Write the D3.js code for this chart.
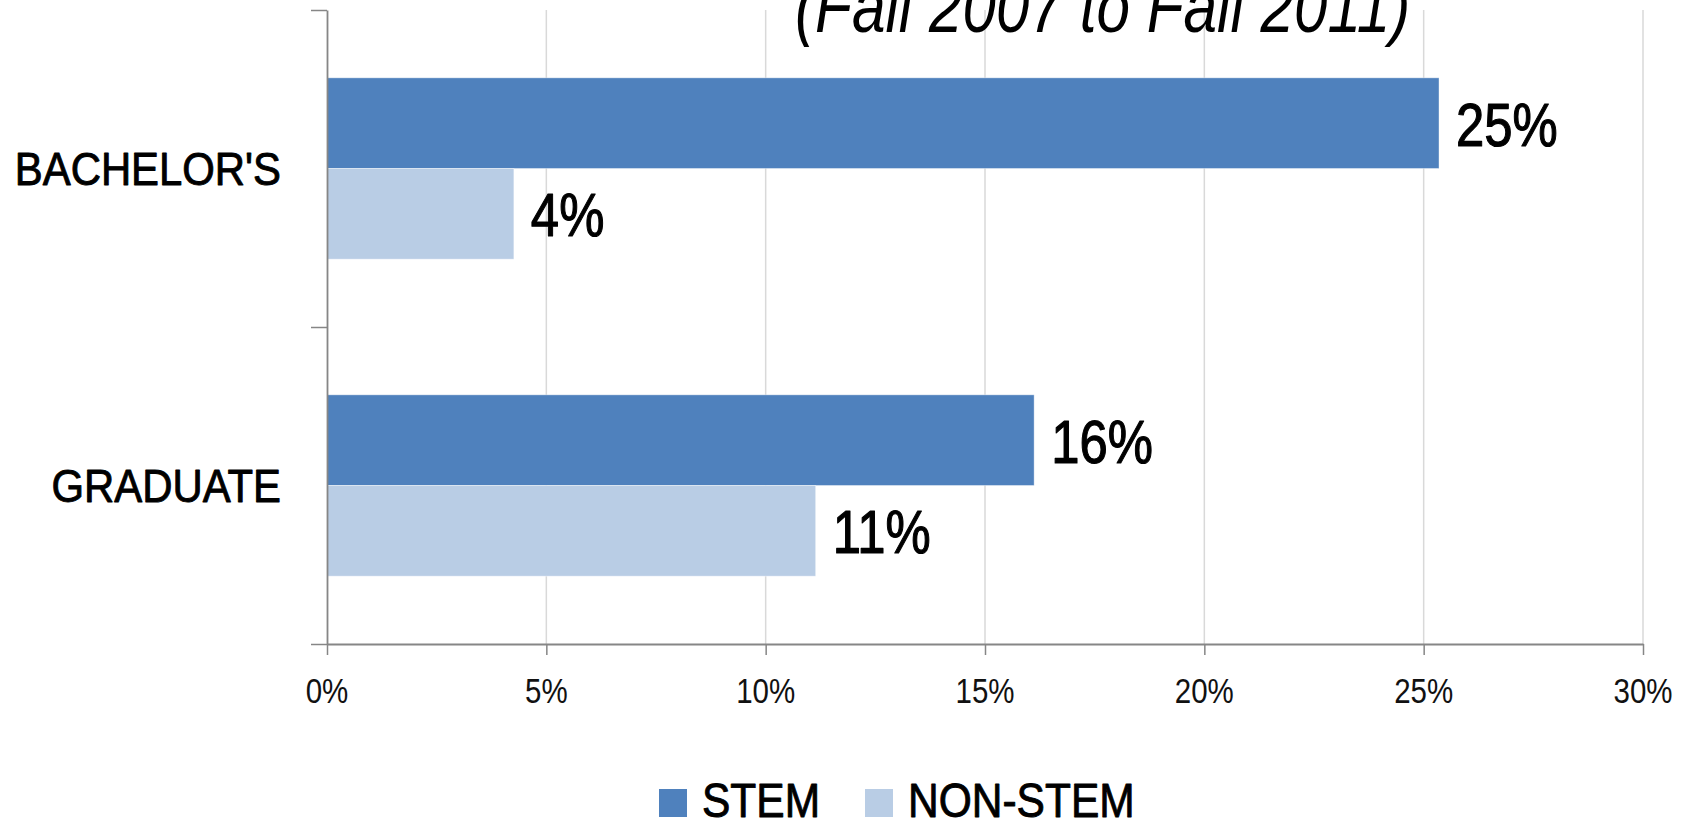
<!DOCTYPE html>
<html>
<head>
<meta charset="utf-8">
<script src="https://cdn.jsdelivr.net/npm/d3@7"></script>
<style>
  html, body { margin: 0; padding: 0; background: #ffffff; overflow: hidden; }
  svg { display: block; }
</style>
</head>
<body>
<svg id="chart" width="1687" height="824"></svg>
<script>
// ---- data ----
const categories = ["BACHELOR'S", "GRADUATE"];
const series = ["STEM", "NON-STEM"];
const stemValues = [25.35, 16.12];
const nonStemValues = [4.26, 11.14];
const xTickValues = [0, 5, 10, 15, 20, 25, 30];
const titleText = "(Fall 2007 to Fall 2011)";

// ---- font detection ----
function hasFont(name) {
  const c = document.createElement("canvas").getContext("2d");
  const s = "BACHELOR'S 2007 NON-STEM";
  c.font = "60px monospace"; const a = c.measureText(s).width;
  c.font = "60px '" + name + "', monospace"; const b = c.measureText(s).width;
  return Math.abs(a - b) > 0.5;
}
const narrow = hasFont("Liberation Sans Narrow");
const FONT = narrow ? "'Liberation Sans Narrow', 'Arial Narrow', sans-serif" : "'Liberation Sans', Arial, sans-serif";
const SX = narrow ? 1 : 0.82;

const colors = { "STEM": "#4F81BD", "NON-STEM": "#B9CDE5" };
const table = categories.map((c, i) => ({ category: c, values: [
  { series: "STEM", value: stemValues[i] },
  { series: "NON-STEM", value: nonStemValues[i] }
]}));

const svg = d3.select("#chart");

const x = d3.scaleLinear().domain([0, 30]).range([327, 1643]);
const y = d3.scaleBand().domain(categories).range([10, 644]);
const inner = d3.scaleBand().domain(series).range([0, y.bandwidth()]).paddingInner(0).paddingOuter(0.748);
const yEdges = d3.scaleLinear().domain([0, categories.length]).range([10, 644]);

function addText(g, tx, ty, str, opts) {
  const sx = (opts.sx || 1) * SX;
  const t = g.append("text")
    .attr("transform", `translate(${tx},${ty}) scale(${sx},1)`)
    .attr("font-family", FONT)
    .attr("font-size", opts.size)
    .attr("font-style", opts.italic ? "italic" : "normal")
    .attr("font-weight", opts.weight || "normal")
    .attr("fill", opts.fill || "#000")
    .attr("text-anchor", opts.anchor || "start")
    .text(str);
  if (opts.heavy) {
    t.attr("stroke", opts.fill || "#000").attr("stroke-width", opts.heavy).attr("stroke-linejoin", "round");
  }
  return t;
}

// gridlines
svg.append("g").selectAll("line")
  .data(xTickValues.filter(d => d > 0))
  .join("line")
  .attr("x1", d => x(d)).attr("x2", d => x(d))
  .attr("y1", 10).attr("y2", 644)
  .attr("stroke", "#D9D9D9").attr("stroke-width", 1.5);

// title (second line, partly cut at top)
addText(svg, 795, 32, titleText, { size: 73.5, italic: true });

// bars
const groups = svg.append("g").selectAll("g")
  .data(table).join("g")
  .attr("transform", d => `translate(0,${y(d.category)})`);

groups.selectAll("rect")
  .data(d => d.values).join("rect")
  .attr("x", x(0))
  .attr("y", d => inner(d.series))
  .attr("width", d => x(d.value) - x(0))
  .attr("height", inner.bandwidth())
  .attr("fill", d => colors[d.series])
  .attr("stroke", "#ffffff").attr("stroke-opacity", 0.5).attr("stroke-width", 0.8);

// value labels
groups.each(function(d) {
  const g = d3.select(this);
  d.values.forEach(v => {
    addText(g, x(v.value) + 17, inner(v.series) + inner.bandwidth() / 2 + 22.5,
      Math.round(v.value) + "%", { size: 62, heavy: 1.2 });
  });
});

// x axis
const xAxis = svg.append("g")
  .attr("transform", "translate(0,644)")
  .call(d3.axisBottom(x).tickValues(xTickValues).tickSize(11).tickSizeOuter(0).tickFormat(""));
xAxis.select(".domain").attr("stroke", "#868686").attr("stroke-width", 1.8);
xAxis.selectAll(".tick line").attr("stroke", "#868686").attr("stroke-width", 1.5);
xTickValues.forEach(t => {
  addText(svg, x(t), 702.5, t + "%", { size: 36, anchor: "middle", fill: "#111" });
});

// y axis (ticks at category boundaries)
const yAxis = svg.append("g")
  .attr("transform", `translate(${x(0)},0)`)
  .call(d3.axisLeft(yEdges).ticks(categories.length).tickSize(16).tickSizeOuter(0).tickFormat(""));
yAxis.select(".domain").attr("stroke", "#868686").attr("stroke-width", 1.8);
yAxis.selectAll(".tick line").attr("stroke", "#868686").attr("stroke-width", 1.5);

// category labels
categories.forEach(c => {
  addText(svg, 281, y(c) + y.bandwidth() / 2 + 16, c, { size: 46, anchor: "end", sx: 1.11, heavy: 0.9 });
});

// legend
const legendX = [659, 865];
series.forEach((s, i) => {
  svg.append("rect")
    .attr("x", legendX[i]).attr("y", 789)
    .attr("width", 28).attr("height", 28)
    .attr("fill", colors[s]);
  addText(svg, legendX[i] + 43, 816.5, s, { size: 48, sx: 1.08, heavy: 0.9 });
});
</script>
</body>
</html>
